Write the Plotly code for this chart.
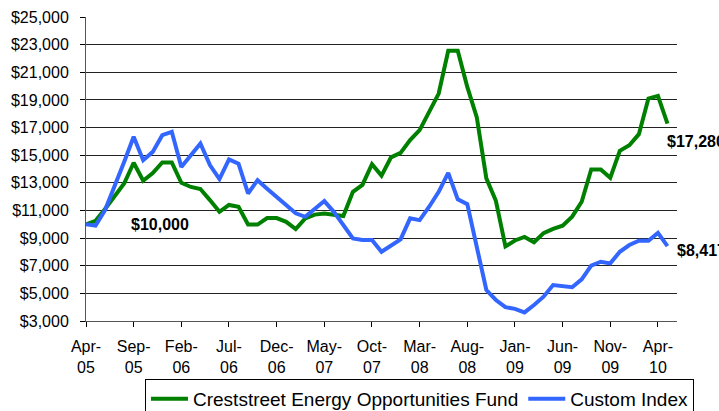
import plotly.graph_objects as go

month_names = ["Jan", "Feb", "Mar", "Apr", "May", "Jun", "Jul", "Aug", "Sep", "Oct", "Nov", "Dec"]
months = []
for k in range(62):
    m = (3 + k) % 12
    yr = 5 + (3 + k) // 12
    months.append(f"{month_names[m]}-{yr:02d}")

fund = [10000, 10250, 11100, 12000, 12950, 14450, 13150, 13700, 14470, 14470,
        13000, 12700, 12550, 11750, 10900, 11400, 11270, 9980, 9980, 10450,
        10450, 10180, 9650, 10430, 10700, 10780, 10700, 10600, 12350, 12850,
        14350, 13520, 14840, 15170, 16090, 16810, 18130, 19460, 22560, 22560,
        19940, 17730, 13320, 11700, 8400, 8830, 9080, 8700, 9360, 9670,
        9900, 10550, 11630, 13970, 13970, 13360, 15310, 15720, 16520, 19100,
        19290, 17280]

custom_index = [10000, 9900, 11030, 12700, 14500, 16330, 14640, 15240, 16450, 16690,
                14150, 15000, 15850, 14280, 13270, 14690, 14380, 12230, 13190, 12570,
                11970, 11340, 10790, 10540, 11080, 11680, 10900, 9940, 8980, 8860,
                8860, 8010, 8500, 8910, 10430, 10300, 11270, 12350, 13720, 11800,
                11460, 8370, 5240, 4520, 4000, 3880, 3620, 4160, 4760, 5600,
                5530, 5440, 6010, 7000, 7290, 7170, 8010, 8500, 8810, 8810,
                9380, 8417]

tick_months = months[::5]
tick_text = [m.replace("-", "-<br>") for m in tick_months]

FONT = "Liberation Sans, Arial, sans-serif"

fig = go.Figure()
fig.add_trace(go.Scatter(x=months, y=fund, mode="lines",
                         name="Creststreet Energy Opportunities Fund",
                         line=dict(color="#008000", width=4)))
fig.add_trace(go.Scatter(x=months, y=custom_index, mode="lines",
                         name="Custom Index",
                         line=dict(color="#3366FF", width=4)))

fig.update_layout(
    width=719, height=411,
    margin=dict(l=86, r=42, t=17, b=90, autoexpand=False),
    paper_bgcolor="white", plot_bgcolor="white",
    font=dict(family=FONT, size=16, color="#000"),
    showlegend=True,
    legend=dict(orientation="h", x=0.0998, y=-0.1908, xanchor="left", yanchor="top",
                bordercolor="#000", borderwidth=1, font=dict(size=19),
                itemwidth=37, tracegroupgap=0),
    xaxis=dict(type="category", range=[0, 62], tickmode="array",
               tickvals=tick_months, ticktext=tick_text,
               ticks="outside", ticklen=5, tickcolor="#000",
               showline=True, linecolor="#555", linewidth=1,
               showgrid=False, zeroline=False, automargin=False,
               ticklabelstandoff=6),
    yaxis=dict(range=[3000, 25000], dtick=2000, tick0=3000,
               tickformat="$,.0f", ticks="outside", ticklen=5, tickcolor="#000",
               showline=True, linecolor="#555", linewidth=1,
               showgrid=True, gridcolor="#222", gridwidth=1,
               zeroline=False, ticklabelstandoff=8, automargin=False),
    annotations=[
        dict(x=7.8, y=10000, xref="x", yref="y", text="<b>$10,000</b>",
             showarrow=False, font=dict(size=16)),
        dict(x=60.7, y=15963, xref="x", yref="y", text="<b>$17,280</b>",
             showarrow=False, xanchor="left", font=dict(size=16)),
        dict(x=61.8, y=8083, xref="x", yref="y", text="<b>$8,417</b>",
             showarrow=False, xanchor="left", font=dict(size=16)),
    ],
)

fig.write_html("out.html",
               config={"displayModeBar": False},
               post_script="document.body.style.margin='0';document.body.style.overflow='hidden';")
